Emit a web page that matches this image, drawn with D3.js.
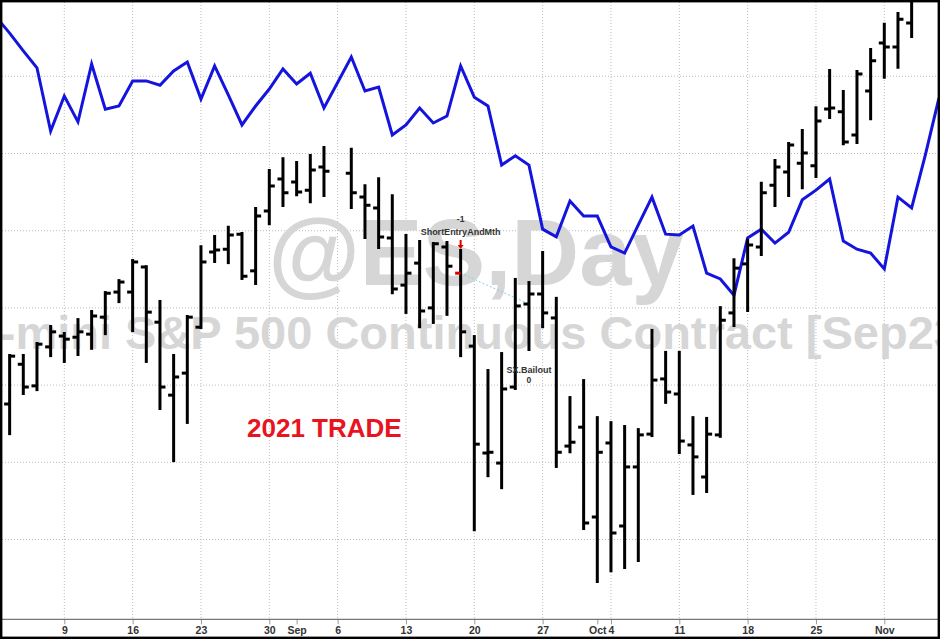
<!DOCTYPE html>
<html><head><meta charset="utf-8">
<script src="https://cdn.jsdelivr.net/npm/d3@7"></script>
<style>html,body{margin:0;padding:0;background:#fff;} svg{display:block}</style>
</head><body>
<svg id="chart" width="940" height="640"></svg>
<script>
// ---------- DATA ----------
const barDates = [
"2021-08-03","2021-08-04","2021-08-05","2021-08-06",
"2021-08-09","2021-08-10","2021-08-11","2021-08-12","2021-08-13",
"2021-08-16","2021-08-17","2021-08-18","2021-08-19","2021-08-20",
"2021-08-23","2021-08-24","2021-08-25","2021-08-26","2021-08-27",
"2021-08-30","2021-08-31","2021-09-01","2021-09-02","2021-09-03",
"2021-09-07","2021-09-08","2021-09-09","2021-09-10",
"2021-09-13","2021-09-14","2021-09-15","2021-09-16","2021-09-17",
"2021-09-20","2021-09-21","2021-09-22","2021-09-23","2021-09-24",
"2021-09-27","2021-09-28","2021-09-29","2021-09-30","2021-10-01",
"2021-10-04","2021-10-05","2021-10-06","2021-10-07","2021-10-08",
"2021-10-11","2021-10-12","2021-10-13","2021-10-14","2021-10-15",
"2021-10-18","2021-10-19","2021-10-20","2021-10-21","2021-10-22",
"2021-10-25","2021-10-26","2021-10-27","2021-10-28","2021-10-29",
"2021-11-01","2021-11-02","2021-11-03"];

const opens = [
4387.75,4413.5,4399.5,4424.75,
4431.75,4431,4433,4444,4460.25,
4460.25,4476.5,4440.75,4393.5,4407.75,
4437.5,4486.25,4488,4497.75,4474,
4512.75,4533.5,4531.5,4526.25,4541.25,
4537.25,4521.75,4514.75,4495.25,
4464.75,4479,4450,4489.5,4472.5,
4425.25,4356,4349.5,4398.75,4452.5,
4459,4443.5,4360.5,4372.75,4314.5,
4362.5,4308.75,4347,4368.25,4404,
4394.25,4361.25,4340.5,4367.75,4446.75,
4478.5,4489.5,4529.5,4538,4543.75,
4542,4578.75,4577,4562,4590.5,
4621.5,4619,4634.5];

const highs = [
4419.5,4419.5,4427.25,4438.25,
4433.75,4442.75,4448,4460.25,4468,
4481,4477,4454.5,4419.5,4444.75,
4490,4496.5,4502.5,4498.5,4514.75,
4539.25,4547,4544.5,4549,4554.25,
4553,4529.5,4534,4523,
4497.25,4493.25,4492,4492.75,4487.5,
4431.75,4409.75,4420.75,4468.75,4466.75,
4486.25,4456.5,4392.25,4403.25,4379.25,
4376,4373.5,4371.5,4435.75,4421.5,
4421.5,4379.25,4378.75,4450.5,4481.5,
4494,4531,4545.75,4556.75,4565.25,
4580,4604,4590.5,4603.5,4617.75,
4634,4641,4662.5];

const lows = [
4368.25,4394.25,4396.75,4418.75,
4415,4419.5,4423.5,4433,4453.75,
4435,4415,4384.5,4350.75,4375.5,
4437,4479.75,4479,4468.75,4465.5,
4504.25,4516,4523,4518.5,4522.5,
4514.75,4495.25,4488.75,4459.5,
4446.75,4437.5,4440.25,4445.5,4418.75,
4306,4341,4333.25,4397.5,4422.75,
4437.5,4347,4356.5,4306.75,4272.5,
4279.5,4281.5,4286,4367,4388.5,
4356,4329.5,4330.75,4366.5,4438.25,
4448,4484.25,4516,4522.5,4527.5,
4534.75,4573,4556,4556.75,4572.25,
4599,4605.5,4625.5];

const closes = [
4418.75,4398.75,4426.5,4434.5,
4429.75,4434.5,4444.75,4459.5,4466.75,
4479.75,4447.25,4398.75,4405.25,4444,
4479.75,4487.5,4497.25,4470.5,4509.5,
4529,4524.5,4525,4539.25,4538.5,
4524.5,4516.5,4496,4462.25,
4472.5,4448,4491.5,4477,4434.5,
4361.75,4356.5,4397.5,4451.25,4459,
4446.75,4356.5,4363,4310.75,4356.5,
4304.25,4347,4367.75,4403.25,4395.5,
4363.75,4353.5,4368.25,4442,4475.75,
4490.75,4524.5,4541.25,4555.5,4550.25,
4571,4579.5,4557.5,4601.5,4610,
4619,4637,4654.5];

// blue overlay series (one value per session, Aug 2 .. Nov 5)
const overlayDates = ["2021-08-02"].concat(barDates, ["2021-11-04","2021-11-05"]);
const overlayValues = [
4638.5,4628,4616.5,4605.5,4564.5,
4587.25,4570.5,4608,4578.75,4580.75,
4597,4597,4594.25,4603.5,4609.25,
4585.25,4606.75,4588,4568.5,4580.75,
4591.75,4604.75,4595,4602,4579.5,
4612.5,4590.5,4593,4562,
4568.5,4579.5,4569.75,4574.25,4606.75,
4586.5,4580.75,4542.5,4548.5,4542.5,
4501,4496,4519.25,4509.5,4509.5,
4489.5,4485.5,4503.75,4521.75,4497.75,
4497.25,4503,4472.5,4468.75,4458.25,
4495.25,4501,4492,4499,4520,
4526.25,4533.5,4493.25,4488,4485.5,
4475.25,4521.75,4514.75,4549,4586];

const gridPrices = [4300,4350,4400,4450,4500,4550,4600];
const mondayTickDates = ["2021-08-02","2021-08-09","2021-08-16","2021-08-23","2021-08-30","2021-09-06","2021-09-13","2021-09-20","2021-09-27","2021-10-04","2021-10-11","2021-10-18","2021-10-25","2021-11-01"];
const mondayTickLabels = ["2","9","16","23","30","6","13","20","27","4","11","18","25","Nov"];
const monthTickDates = ["2021-09-01","2021-10-01"];
const monthTickLabels = ["Sep","Oct"];

const trade = {entryDate:"2021-09-17", entryPrice:4472.5, entryLabel:"ShortEntryAndMth", entryQty:"-1",
               exitDate:"2021-09-24", exitPrice:4452.5, exitLabel:"SX.Bailout", exitQty:"0"};
const watermark1 = "@ES,Day";
const watermark2 = "E-mini S&P 500 Continuous Contract [Sep23]";
const noteText = "2021 TRADE";

// ---------- SCALES ----------
const W = 940, H = 640;
const plot = {left:2, top:2, right:938, bottom:619.3};
const parse = d3.utcParse("%Y-%m-%d");
const origin = parse("2021-08-02");
function slot(s){ const d = parse(s); return d3.utcMonday.count(origin, d)*5 + (d.getUTCDay()+6)%7; }

const x = d3.scaleLinear().domain([5,65]).range([64.3,884.3]);
const y = d3.scaleLinear().domain([4250,4650]).range([616.7,-0.9]);

const svg = d3.select("#chart");
svg.append("rect").attr("width",W).attr("height",H).attr("fill","#fff");

svg.append("defs").append("clipPath").attr("id","clip")
  .append("rect").attr("x",plot.left).attr("y",plot.top)
  .attr("width",plot.right-plot.left).attr("height",plot.bottom-plot.top);

const g = svg.append("g").attr("clip-path","url(#clip)");

// gridlines
g.selectAll("line.hg").data(gridPrices).join("line")
  .attr("x1",plot.left).attr("x2",plot.right)
  .attr("y1",d=>y(d)).attr("y2",d=>y(d))
  .attr("stroke","#bcbcbc").attr("stroke-width",1).attr("stroke-dasharray","1,2");
g.selectAll("line.vg").data(mondayTickDates).join("line")
  .attr("x1",d=>x(slot(d))).attr("x2",d=>x(slot(d)))
  .attr("y1",plot.top).attr("y2",plot.bottom)
  .attr("stroke","#bcbcbc").attr("stroke-width",1).attr("stroke-dasharray","1,2");

// watermark
g.append("text").attr("x",476).attr("y",285).attr("text-anchor","middle")
  .attr("font-family","'Liberation Sans', Arial, sans-serif").attr("font-weight","bold")
  .attr("font-size",94).attr("fill","#d6d6d6").text(watermark1);
g.append("text").attr("x",472).attr("y",349).attr("text-anchor","middle")
  .attr("font-family","'Liberation Sans', Arial, sans-serif").attr("font-weight","bold")
  .attr("font-size",47).attr("fill","#d6d6d6").text(watermark2);

// trade connector
g.append("line")
  .attr("x1",x(slot(trade.entryDate))).attr("y1",y(trade.entryPrice))
  .attr("x2",x(slot(trade.exitDate))).attr("y2",y(trade.exitPrice))
  .attr("stroke","#7fd3e0").attr("stroke-width",1).attr("stroke-dasharray","2,2");

// overlay line
const ov = overlayDates.map((d,i)=>({s:slot(d), v:overlayValues[i]}));
g.append("path").datum(ov)
  .attr("d", d3.line().x(d=>x(d.s)).y(d=>y(d.v)))
  .attr("fill","none").attr("stroke","#1414dc").attr("stroke-width",3)
  .attr("stroke-linejoin","miter");

// OHLC bars
const bars = barDates.map((d,i)=>({d, s:slot(d), o:opens[i], h:highs[i], l:lows[i], c:closes[i]}));
const bg = g.append("g").attr("stroke","#000").attr("stroke-width",3);
bg.selectAll("line.hl").data(bars).join("line")
  .attr("x1",d=>x(d.s)).attr("x2",d=>x(d.s))
  .attr("y1",d=>y(d.h)-1).attr("y2",d=>y(d.l)+1);
bg.selectAll("line.op").data(bars).join("line")
  .attr("x1",d=>x(d.s)-5.5).attr("x2",d=>x(d.s))
  .attr("y1",d=>y(d.o)).attr("y2",d=>y(d.o))
  .attr("stroke",d=>d.d===trade.entryDate?"#e00000":"#000");
bg.selectAll("line.cl").data(bars).join("line")
  .attr("x1",d=>x(d.s)).attr("x2",d=>x(d.s)+5.5)
  .attr("y1",d=>y(d.c)).attr("y2",d=>y(d.c));

// trade annotations
const eb = bars.find(b=>b.d===trade.entryDate);
const ex = x(eb.s), eyTop = y(eb.h);
g.append("path")
  .attr("d",`M${ex},${eyTop-10}L${ex},${eyTop-3}`)
  .attr("stroke","#e00000").attr("stroke-width",2);
g.append("path")
  .attr("d",`M${ex-3},${eyTop-5}L${ex+3},${eyTop-5}L${ex},${eyTop-1}Z`)
  .attr("fill","#e00000");
const lblFont = "'Liberation Sans', Arial, sans-serif";
g.append("text").attr("x",ex).attr("y",eyTop-15).attr("text-anchor","middle")
  .attr("font-family",lblFont).attr("font-size",9).attr("font-weight","bold").attr("fill","#333").text(trade.entryLabel);
g.append("text").attr("x",ex).attr("y",eyTop-28).attr("text-anchor","middle")
  .attr("font-family",lblFont).attr("font-size",8.5).attr("font-weight","bold").attr("fill","#333").text(trade.entryQty);
const xb = bars.find(b=>b.d===trade.exitDate);
const xx = x(xb.s), xyLow = y(xb.l);
g.append("text").attr("x",xx).attr("y",xyLow+23).attr("text-anchor","middle")
  .attr("font-family",lblFont).attr("font-size",9).attr("font-weight","bold").attr("fill","#333").text(trade.exitLabel);
g.append("text").attr("x",xx).attr("y",xyLow+33).attr("text-anchor","middle")
  .attr("font-family",lblFont).attr("font-size",8.5).attr("font-weight","bold").attr("fill","#333").text(trade.exitQty);

// note
g.append("text").attr("x",247).attr("y",437)
  .attr("font-family",lblFont).attr("font-weight","bold").attr("font-size",26)
  .attr("fill","#e8141e").text(noteText);

// x axis
const axisG = svg.append("g").attr("transform",`translate(0,${plot.bottom})`);
const allTickSlots = mondayTickDates.map(slot).concat(monthTickDates.map(slot));
const allTickLabels = mondayTickLabels.concat(monthTickLabels);
const axis = d3.axisBottom(x).tickValues(allTickSlots)
  .tickFormat((d,i)=>allTickLabels[allTickSlots.indexOf(d)]).tickSize(5).tickPadding(2);
axisG.call(axis);
axisG.select(".domain").remove();
axisG.selectAll(".tick line").attr("stroke","#999");
axisG.selectAll(".tick text").attr("font-family","'Liberation Sans Narrow','Arial Narrow','Liberation Sans',sans-serif")
  .attr("font-weight","bold").attr("font-size",10.5).attr("fill","#333");
svg.append("line").attr("x1",plot.left).attr("x2",plot.right)
  .attr("y1",plot.bottom).attr("y2",plot.bottom).attr("stroke","#555").attr("stroke-width",1);

// frame
svg.append("rect").attr("x",1.2).attr("y",1.2).attr("width",937.6).attr("height",636.6)
  .attr("fill","none").attr("stroke","#000").attr("stroke-width",2.4);
</script>
</body></html>
